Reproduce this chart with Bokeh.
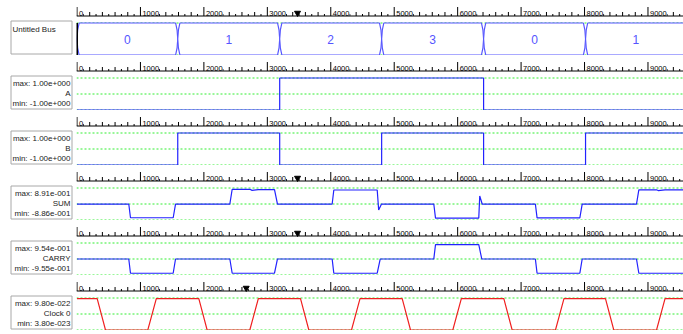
from bokeh.plotting import figure
from bokeh.layouts import column, row
from bokeh.models import Range1d, Span
from bokeh.core.properties import value
from bokeh.embed import file_html
from bokeh.resources import INLINE

# ---------------- data ----------------
bus_edges = [0, 1588, 3195, 4802, 6409, 8016, 9600]
bus_values = ["0", "1", "2", "3", "0", "1"]

a_t = [0, 3195, 3195, 6409, 6409, 9600]
a_v = [-1, -1, 1, 1, -1, -1]

b_t = [0, 1588, 1588, 3195, 3195, 4802, 4802, 6409, 6409, 8016, 8016, 9600]
b_v = [-1, -1, 1, 1, -1, -1, 1, 1, -1, -1, 1, 1]

sum_t = [0, 816, 843, 1516, 1553, 2409, 2446, 2724, 2760, 2858, 3113, 3160, 4022, 4048,
         4732, 4755, 4800, 5624, 5651, 6333, 6348, 6387, 7225, 7252, 7926, 7963, 8819,
         8856, 9135, 9160, 9269, 9600]
sum_v = [0, 0, -0.76, -0.76, 0, 0, 0.82, 0.82, 0.76, 0.80, 0.80, 0, 0, 0.78,
         0.78, -0.33, 0, 0, -0.78, -0.78, 0.45, 0, 0, -0.77, -0.77, 0, 0,
         0.79, 0.79, 0.75, 0.79, 0.79]

carry_t = [0, 816, 843, 1516, 1553, 2409, 2446, 3113, 3160, 4022, 4048, 4732, 4780,
           5624, 5651, 6333, 6380, 7225, 7252, 7926, 7963, 8819, 8856, 9600]
carry_v = [0, 0, -0.85, -0.85, 0, 0, -0.85, -0.85, 0, 0, -0.85, -0.85, 0,
           0, 0.86, 0.86, 0, 0, -0.85, -0.85, 0, 0, -0.85, -0.85]

clk_t = [0, 318, 449, 1116, 1250, 1920, 2051, 2724, 2858, 3523, 3654, 4327, 4461,
         5126, 5257, 5924, 6058, 6728, 6859, 7542, 7676, 8330, 8461, 9135, 9269, 9600]
clk_v = [9.6e-22, 9.6e-22, 3.8e-23, 3.8e-23, 9.6e-22, 9.6e-22, 3.8e-23, 3.8e-23,
         9.6e-22, 9.6e-22, 3.8e-23, 3.8e-23, 9.6e-22, 9.6e-22, 3.8e-23, 3.8e-23,
         9.6e-22, 9.6e-22, 3.8e-23, 3.8e-23, 9.6e-22, 9.6e-22, 3.8e-23, 3.8e-23,
         9.6e-22, 9.6e-22]

names = ["A", "B", "SUM", "CARRY", "Clock 0"]
max_labels = ["max: 1.00e+000", "max: 1.00e+000", "max: 8.91e-001", "max: 9.54e-001", "max: 9.80e-022"]
min_labels = ["min: -1.00e+000", "min: -1.00e+000", "min: -8.86e-001", "min: -9.55e-001", "min: 3.80e-023"]
max_vals = [1.0, 1.0, 0.891, 0.954, 9.80e-22]
min_vals = [-1.0, -1.0, -0.886, -0.955, 3.80e-23]

tick_values = [0, 1000, 2000, 3000, 4000, 5000, 6000, 7000, 8000, 9000]
tick_labels = ["0", "1000", "2000", "3000", "4000", "5000", "6000", "7000", "8000", "9000"]

# cursor marker (time) shown on each row's ruler; None = no marker
cursor_times = [3476, None, None, 3476, 3476, 2667]

# ---------------- style ----------------
X0, X1 = -8, 9560
BLUE = "#2222ff"
BUS_BLUE = "#5555ff"
GREEN = "#33ee33"
RED = "#f02020"
BOX = "#a8a8a8"
FONT = "Liberation Sans"
RULER_FONT = "'Liberation Sans Narrow', 'Liberation Sans'"

ROW_H = 55          # pixel height of one row
RULER_Y = 15.5      # ruler line, pixels from row top
TOP_Y = 22.5        # max guide line, pixels from row top
BOT_Y = 54.5        # min guide line, pixels from row top
LABEL_W = 76
WAVE_W = 607


def wave_fig(vmin, vmax, cursor):
    per_px = (vmax - vmin) / (BOT_Y - TOP_Y)
    p = figure(frame_width=WAVE_W, frame_height=ROW_H,
               x_range=Range1d(X0, X1),
               y_range=Range1d(vmin - (ROW_H - BOT_Y) * per_px, vmax + TOP_Y * per_px),
               output_backend="svg", toolbar_location=None,
               min_border_left=0, min_border_right=0,
               min_border_top=0, min_border_bottom=0,
               x_axis_location=None, y_axis_location=None)
    p.extra_y_ranges = {"px": Range1d(ROW_H, 0)}
    p.outline_line_color = None
    p.grid.visible = False
    p.background_fill_color = "white"
    # time ruler
    p.add_layout(Span(location=RULER_Y, dimension="width", y_range_name="px",
                      line_color="black", line_width=1))
    minor = [m * 100 for m in range(0, 96) if m % 10 != 0]
    small = [m for m in minor if (m // 100) % 2 == 1]
    tall = [m for m in minor if (m // 100) % 2 == 0]
    p.segment(x0=small, x1=small, y0=[RULER_Y] * len(small), y1=[RULER_Y - 2] * len(small),
              y_range_name="px", line_color="black", line_width=1)
    p.segment(x0=tall, x1=tall, y0=[RULER_Y] * len(tall), y1=[RULER_Y - 4] * len(tall),
              y_range_name="px", line_color="black", line_width=1)
    p.text(x=tick_values, y=[RULER_Y - 2.5] * len(tick_values), text=tick_labels,
           y_range_name="px", x_offset=2, text_align="left", text_baseline="alphabetic",
           text_font=value(RULER_FONT), text_font_size="7.5px", text_color="black",
           background_fill_color="white")
    p.segment(x0=tick_values, x1=tick_values, y0=[RULER_Y] * len(tick_values),
              y1=[RULER_Y - 9] * len(tick_values),
              y_range_name="px", line_color="black", line_width=1)
    if cursor is not None:
        p.scatter(x=[cursor], y=[RULER_Y - 3], y_range_name="px", marker="inverted_triangle",
                  size=6, fill_color="black", line_color="black")
    return p


def add_guides(p, vmin, vmax, levels=3):
    locs = [vmax, (vmax + vmin) / 2.0, vmin] if levels == 3 else [vmax, vmin]
    for loc in locs:
        p.add_layout(Span(location=loc, dimension="width", line_color=GREEN,
                          line_dash="2 2", line_width=1, level="underlay"))


def label_fig():
    p = figure(frame_width=LABEL_W, frame_height=ROW_H,
               x_range=Range1d(0, LABEL_W), y_range=Range1d(ROW_H, 0),
               output_backend="svg", toolbar_location=None,
               min_border_left=0, min_border_right=0,
               min_border_top=0, min_border_bottom=0,
               x_axis_location=None, y_axis_location=None)
    p.outline_line_color = None
    p.grid.visible = False
    p.quad(left=[10.5], right=[71.5], top=[20.5], bottom=[53.5],
           fill_color="white", line_color=BOX, line_width=1)
    return p


rows = []

# ---- bus row ----
bl = label_fig()
bl.text(x=[12], y=[28.5], text=["Untitled Bus"],
        text_align="left", text_baseline="middle",
        text_font=value(FONT), text_font_size="8px", text_color="#222222")

bw = wave_fig(-1.0, 1.0, cursor_times[0])
add_guides(bw, -1.0, 1.0, levels=2)
d = 34
xs, ys = [], []
for t0, t1 in zip(bus_edges[:-1], bus_edges[1:]):
    xs.append([t0 + d, t1 - d, t1 - 0.3 * d, t1, t1 - 0.3 * d, t1 - d,
               t0 + d, t0 + 0.3 * d, t0, t0 + 0.3 * d])
    ys.append([1, 1, 0.55, 0, -0.55, -1, -1, -0.55, 0, 0.55])
bw.patches(xs, ys, fill_color="white", line_color=BUS_BLUE, line_width=1.2)
centers = [(t0 + t1) / 2.0 for t0, t1 in zip(bus_edges[:-1], bus_edges[1:])]
bw.text(x=centers, y=[0] * len(centers), text=bus_values,
        text_align="center", text_baseline="middle",
        text_font=value(FONT), text_font_size="12px", text_color=BUS_BLUE)
bw.line(x=[0, 0], y=[-1, 1], line_color="black", line_width=2)
rows.append(row(bl, bw, spacing=0))

# ---- signal rows ----
series = [(a_t, a_v, BLUE), (b_t, b_v, BLUE), (sum_t, sum_v, BLUE),
          (carry_t, carry_v, BLUE), (clk_t, clk_v, RED)]
for i, (ts, vs, col) in enumerate(series):
    lf = label_fig()
    lf.text(x=[70, 70, 70], y=[27.5, 37.5, 47.5],
            text=[max_labels[i], names[i], min_labels[i]],
            text_align="right", text_baseline="middle",
            text_font=value(FONT), text_font_size="8px", text_color="#222222")
    wf = wave_fig(min_vals[i], max_vals[i], cursor_times[i + 1])
    add_guides(wf, min_vals[i], max_vals[i])
    wf.line(x=ts, y=vs, line_color=col, line_width=1.2)
    rows.append(row(lf, wf, spacing=0))

layout = column(*rows, spacing=0)
open("out.html", "w").write(file_html(layout, INLINE))
